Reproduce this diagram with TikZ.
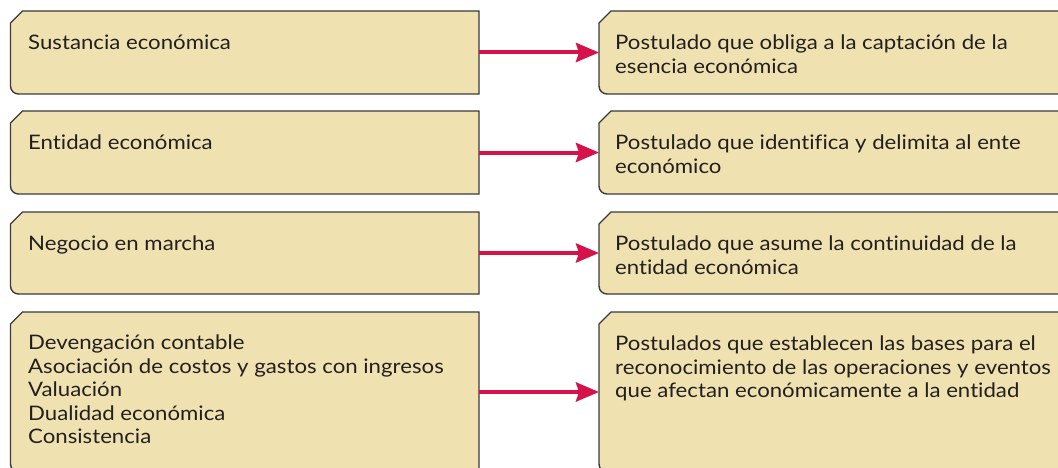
\documentclass[tikz,border=0pt]{standalone}
\usepackage{fontspec}
\setmainfont[FakeStretch=1.11, RawFeature={-liga}]{Lato}
\usetikzlibrary{arrows.meta,calc}
\definecolor{boxfill}{HTML}{F0E2B0}
\definecolor{boxline}{HTML}{3A3A3A}
\definecolor{arrowred}{HTML}{D6124A}
\definecolor{txt}{HTML}{231F20}
\tikzset{
  x=1pt, y=1pt,
  anchorbox/.style={inner sep=0pt, outer sep=0pt, minimum width=#1, rectangle},
  boxoutline/.style={fill=boxfill, draw=boxline, line width=1.4pt},
  boxtext/.style={anchor=north west, inner sep=0pt, align=left, text=txt,
    font=\fontsize{20}{23.4}\selectfont, execute at begin node={\rule{0pt}{20pt}}},
  link/.style={draw=arrowred, line width=4pt, -{Stealth[length=23pt, width=19pt, inset=3pt]}}
}
% \cutbox{node}: chamfer top-left, round bottom-left
\newcommand{\cutbox}[1]{%
  \path[boxoutline] ($(#1.north west)+(0,-12)$) -- ($(#1.north west)+(12,0)$) -- (#1.north east)
    -- (#1.south east) -- ($(#1.south west)+(8,0)$) arc[start angle=270, end angle=180, radius=8]
    -- cycle;}
\begin{document}
\begin{tikzpicture}
\useasboundingbox (0,0) rectangle (1058,467);
\clip (0,0) rectangle (1058,467);
\foreach \n/\t/\b in {1/456/373, 2/356/273, 3/255/173, 4/155/-5}{
  \pgfmathsetmacro{\h}{\t-\b}
  \pgfmathsetmacro{\m}{(\t+\b)/2}
  \node[anchorbox=468.5pt, minimum height=\h pt] (l\n) at (244.75,\m) {};
  \node[anchorbox=480pt, minimum height=\h pt] (r\n) at (839,\m) {};
  \cutbox{l\n}
  \cutbox{r\n}
}
\node[boxtext] (lt1) at ($(l1.north west)+(17.5,-18)$) {Sustancia económica};
\node[boxtext] (lt2) at ($(l2.north west)+(17.5,-18)$) {Entidad económica};
\node[boxtext] (lt3) at ($(l3.north west)+(17.5,-18)$) {Negocio en marcha};
\node[boxtext] (lt4) at ($(l4.north west)+(17.5,-23)$) {Devengación contable\\Asociación de costos y gastos con ingresos\\Valuación\\Dualidad económica\\Consistencia};
\node[boxtext] (rt1) at ($(r1.north west)+(16,-24)$) {Postulado que obliga a la captación de la\\esencia económica};
\node[boxtext] (rt2) at ($(r2.north west)+(16,-24)$) {Postulado que identifica y delimita al ente\\económico};
\node[boxtext] (rt3) at ($(r3.north west)+(16,-24)$) {Postulado que asume la continuidad de la\\entidad económica};
\node[boxtext] (rt4) at ($(r4.north west)+(16,-24)$) {Postulados que establecen las bases para el\\reconocimiento de las operaciones y eventos\\que afectan económicamente a la entidad};
\foreach \n in {1,2,3,4}{
  \draw[link] (l\n.east) -- (r\n.west);
}
\end{tikzpicture}
\end{document}
